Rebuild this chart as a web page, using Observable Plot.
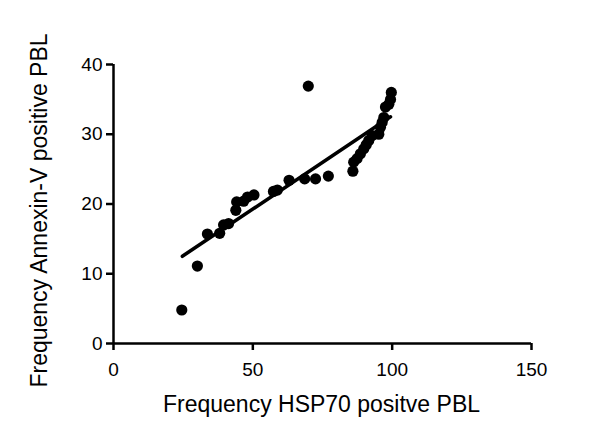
<!DOCTYPE html>
<html>
<head>
<meta charset="utf-8">
<script src="https://cdn.jsdelivr.net/npm/d3@7"></script>
<script src="https://cdn.jsdelivr.net/npm/@observablehq/plot@0.6"></script>
<style>
  html, body { margin: 0; padding: 0; background: #fff; }
</style>
</head>
<body>
<div id="chart"></div>
<script>
// HSP70 positive PBL frequency (x) vs Annexin-V positive PBL frequency (y)
const hsp70 = [24.5, 30.1, 33.7, 38.1, 39.5, 41.3, 43.9, 44.2, 46.7, 48.1, 50.4, 57.4, 58.8, 63.0, 68.6, 72.5, 77.1, 69.9,
               85.9, 86.2, 87.4, 88.6, 89.8, 90.7, 91.6, 92.8, 95.2, 95.8, 96.4, 97.0, 97.6, 98.8, 99.4, 99.7];
const annexin = [4.8, 11.1, 15.7, 15.8, 17.0, 17.2, 19.1, 20.3, 20.4, 21.0, 21.3, 21.8, 22.0, 23.4, 23.6, 23.6, 24.0, 36.9,
                 24.7, 26.0, 26.5, 27.2, 27.9, 28.5, 29.1, 29.8, 30.0, 31.0, 31.7, 32.4, 33.9, 34.3, 35.0, 36.0];
// Fitted line end points
const fitX = [24.7, 99.4];
const fitY = [12.5, 32.5];
const xTicks = [0, 50, 100, 150];
const yTicks = [0, 10, 20, 30, 40];
const xTitle = "Frequency HSP70 positve PBL";
const yTitle = "Frequency Annexin-V positive PBL";

const points = hsp70.map((x, i) => ({x, y: annexin[i]}));
const fit = fitX.map((x, i) => ({x, y: fitY[i]}));

const chart = Plot.plot({
  width: 600,
  height: 441,
  marginLeft: 113,
  marginRight: 69,
  marginTop: 64,
  marginBottom: 98,
  style: {fontFamily: "'Liberation Sans', Arial, sans-serif", background: "#fff", color: "#000"},
  x: {domain: [0, 150]},
  y: {domain: [0, 40]},
  marks: [
    Plot.axisX({ticks: xTicks, tickSize: 7, tickPadding: 12, strokeWidth: 2.5, fontSize: 19, label: null}),
    Plot.axisY({ticks: yTicks, tickSize: 7, tickPadding: 4, strokeWidth: 2.5, fontSize: 19, label: null}),
    Plot.ruleY([yTicks[0]], {x1: xTicks[0], x2: xTicks[xTicks.length - 1], strokeWidth: 2.5}),
    Plot.ruleX([xTicks[0]], {y1: yTicks[0], y2: yTicks[yTicks.length - 1], strokeWidth: 2.5}),
    Plot.line(fit, {x: "x", y: "y", stroke: "#000", strokeWidth: 3.5}),
    Plot.dot(points, {x: "x", y: "y", r: 5.6, fill: "#000", stroke: "none"}),
    Plot.text([xTitle], {frameAnchor: "bottom", textAnchor: "middle", lineAnchor: "middle", dx: -1, dy: 61, fontSize: 23, fill: "#000"}),
    Plot.text([yTitle], {frameAnchor: "left", rotate: -90, textAnchor: "middle", lineAnchor: "top", dx: -83, dy: 6.5, fontSize: 23, fill: "#000"})
  ]
});
document.getElementById("chart").appendChild(chart);
</script>
</body>
</html>
